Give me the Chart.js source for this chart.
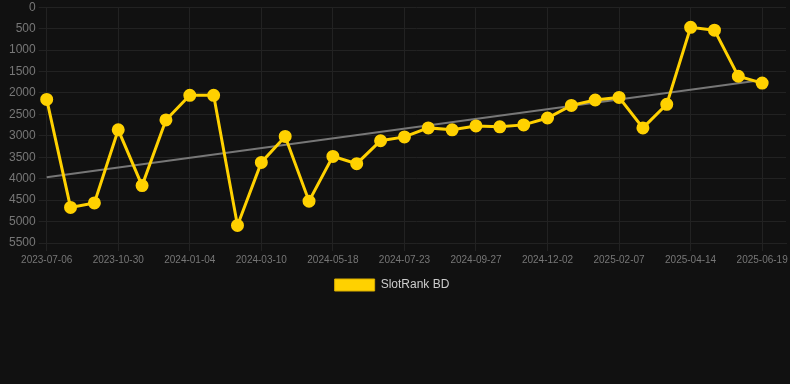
<!DOCTYPE html>
<html>
<head>
<meta charset="utf-8">
<script src="https://cdn.jsdelivr.net/npm/chart.js@4/dist/chart.umd.min.js"></script>
<style>
  html, body { margin: 0; padding: 0; background: #111111; overflow: hidden; }
  #wrap { position: relative; width: 794px; height: 304px; margin-top: -3px; }
</style>
</head>
<body>
<div id="wrap"><canvas id="c"></canvas></div>
<script>
const categories = [
  "2023-07-06","2023-08-13","2023-09-21","2023-10-30","2023-11-21","2023-12-13",
  "2024-01-04","2024-01-26","2024-02-17","2024-03-10","2024-04-01","2024-04-24",
  "2024-05-18","2024-06-08","2024-07-01","2024-07-23","2024-08-14","2024-09-05",
  "2024-09-27","2024-10-19","2024-11-10","2024-12-02","2024-12-24","2025-01-16",
  "2025-02-07","2025-02-28","2025-03-23","2025-04-14","2025-05-06","2025-05-28",
  "2025-06-19",""
];
const rankValues = [
  2150, 4670, 4565, 2860, 4160, 2630, 2055, 2055, 5090, 3620, 3015,
  4525, 3480, 3650, 3115, 3025, 2815, 2860, 2770, 2790, 2745, 2585,
  2290, 2165, 2105, 2815, 2265, 470, 535, 1610, 1770
];
const trendStart = 3965;
const trendEnd = 1700;
const yTicks = { min: 0, max: 5500, step: 500 };

const trendData = categories.map(() => null);
trendData[0] = trendStart;
trendData[rankValues.length - 1] = trendEnd;

const legendShift = {
  id: 'legendShift',
  afterLayout(chart) {
    if (chart.legend && chart.legend.lineWidths && chart.legend.lineWidths.length) {
      chart.legend.lineWidths[0] += 16;
    }
  }
};

new Chart(document.getElementById('c'), {
  type: 'line',
  plugins: [legendShift],
  data: {
    labels: categories,
    datasets: [
      {
        label: 'SlotRank BD',
        data: rankValues,
        borderColor: '#FFD100',
        backgroundColor: '#FFD100',
        borderWidth: 3,
        pointRadius: 5,
        pointHoverRadius: 5,
        pointBackgroundColor: '#FFD100',
        pointBorderColor: '#FFD100',
        tension: 0,
        order: 1
      },
      {
        label: 'trend',
        data: trendData,
        borderColor: '#777777',
        backgroundColor: '#777777',
        borderWidth: 2,
        pointRadius: 0,
        spanGaps: true,
        tension: 0,
        order: 2
      }
    ]
  },
  options: {
    responsive: true,
    maintainAspectRatio: false,
    animation: false,
    layout: { padding: { left: 6, top: 0, right: 0 } },
    plugins: {
      legend: {
        position: 'bottom',
        labels: {
          color: '#cccccc',
          font: { family: 'Arial, "Liberation Sans", sans-serif', size: 12 },
          boxWidth: 40,
          boxHeight: 12,
          filter: (item) => item.text !== 'trend',
          generateLabels: (chart) => {
            const items = Chart.defaults.plugins.legend.labels.generateLabels(chart);
            items.forEach((it) => { it.lineWidth = 1; it.strokeStyle = '#D9AE00'; });
            return items;
          }
        }
      },
      tooltip: { enabled: false }
    },
    scales: {
      x: {
        grid: { color: '#222222', tickLength: 8 },
        border: { color: '#222222' },
        ticks: {
          color: '#777777',
          font: { family: 'Arial, "Liberation Sans", sans-serif', size: 10 },
          autoSkip: true,
          maxTicksLimit: 11,
          maxRotation: 0
        }
      },
      y: {
        reverse: true,
        min: yTicks.min,
        max: yTicks.max,
        grid: { color: '#222222', tickLength: 8 },
        border: { color: '#222222' },
        ticks: {
          stepSize: yTicks.step,
          color: '#777777',
          font: { family: 'Arial, "Liberation Sans", sans-serif', size: 12 },
          callback: (v) => String(v)
        }
      }
    }
  }
});
</script>
</body>
</html>
